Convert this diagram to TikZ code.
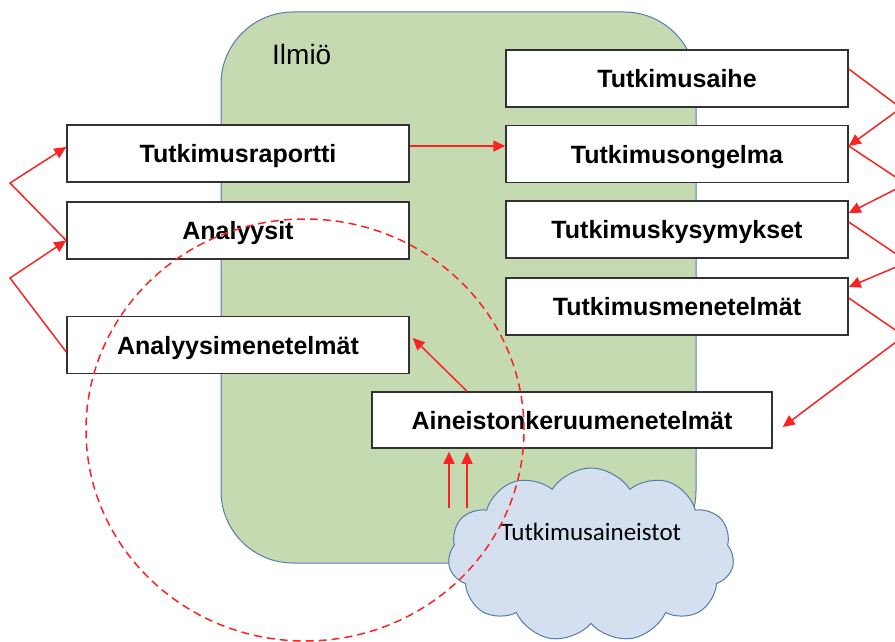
\documentclass[tikz,border=0pt]{standalone}
\usepackage{fontspec}
\setmainfont{Liberation Sans}
\newfontfamily\cloudfont{Carlito}
\usetikzlibrary{arrows.meta,shapes.symbols}
\definecolor{ilmiogreen}{RGB}{197,218,176}
\definecolor{ilmioedge}{RGB}{85,125,175}
\definecolor{cloudfill}{RGB}{212,223,240}
\definecolor{cloudedge}{RGB}{85,125,170}
\definecolor{arrowred}{RGB}{250,35,35}
\definecolor{boxedge}{RGB}{50,50,50}
\tikzset{
	box/.style={draw=boxedge, line width=1.5pt, fill=white, minimum width=342pt, minimum height=57pt,
		inner sep=0pt, text height=18pt, text depth=0pt, font=\fontsize{25}{30}\selectfont\bfseries},
	redarrow/.style={draw=arrowred, line width=1.5pt, -{Triangle[length=12pt,width=11pt]}},
}
\begin{document}
\begin{tikzpicture}[x=1pt,y=-1pt]
			\useasboundingbox (0,0) rectangle (895,642);
			\clip (0,0) rectangle (895,642);
			\fill[white] (0,0) rectangle (895,642);
			\draw[draw=ilmioedge, fill=ilmiogreen, line width=1pt, rounded corners=72pt] (221,12) rectangle (696,563);
			\node[anchor=base west, inner sep=0pt, font=\fontsize{28}{34}\selectfont] (ilmio) at (272,65) {Ilmiö};
			\node[cloud, cloud puffs=11, cloud puff arc=115, cloud ignores aspect, minimum width=286pt, minimum height=174pt,
				draw=cloudedge, fill=cloudfill, line width=1pt,
				label={[yshift=23pt, font=\cloudfont\fontsize{25}{30}\selectfont]center:Tutkimusaineistot}] (aineistot) at (591,555) {};
			\node[box] (aihe) at (677,78.5) {Tutkimusaihe};
			\node[box] (ongelma) at (677,154) {Tutkimusongelma};
			\node[box] (kysymykset) at (677,229.5) {Tutkimuskysymykset};
			\node[box] (menetelmat) at (677,306.5) {Tutkimusmenetelmät};
			\node[box] (raportti) at (238,153.5) {Tutkimusraportti};
			\node[box] (analyysit) at (238,230.5) {Analyysit};
			\node[box] (analmenet) at (238,345) {Analyysimenetelmät};
			\node[box, minimum width=400pt, minimum height=56pt] (keruu) at (572,420) {Aineistonkeruumenetelmät};
			\coordinate (r1) at (901,108);
			\coordinate (r2) at (906,184);
			\coordinate (r3) at (908,262);
			\coordinate (r4) at (904,336);
			\coordinate (l1) at (10,183);
			\coordinate (l2) at (10,278);
			\coordinate (d1) at (449,508);
			\coordinate (d2) at (467,508);
			\draw[redarrow] ([yshift=9.5pt]aihe.east) -- (r1) -- ([yshift=8pt]ongelma.east);
			\draw[redarrow] ([yshift=8pt]ongelma.east) -- (r2) -- ([yshift=16.5pt]kysymykset.east);
			\draw[redarrow] ([yshift=7.5pt]kysymykset.east) -- (r3) -- ([yshift=19.5pt]menetelmat.east);
			\draw[redarrow] ([yshift=8.5pt]menetelmat.east) -- (r4) -- ([xshift=10pt,yshift=-7pt]keruu.east);
			\draw[redarrow] ([yshift=-10pt]analyysit.west) -- (l1) -- ([yshift=6.5pt]raportti.west);
			\draw[redarrow] ([yshift=-7pt]analmenet.west) -- (l2) -- ([yshift=-10pt]analyysit.west);
			\draw[redarrow] ([yshift=7.5pt]raportti.east) -- ([yshift=8pt]ongelma.west);
			\draw[redarrow] ([xshift=-105pt]keruu.north) -- ([xshift=3pt,yshift=7pt]analmenet.east);
			\draw[redarrow] (d1) -- ([xshift=-123pt,yshift=-3pt]keruu.south);
			\draw[redarrow] (d2) -- ([xshift=-105pt,yshift=-3pt]keruu.south);
			\draw[arrowred, line width=1.5pt, dash pattern=on 8pt off 5pt] (305,430) ellipse [x radius=219pt, y radius=211pt];
		\end{tikzpicture}
\end{document}
